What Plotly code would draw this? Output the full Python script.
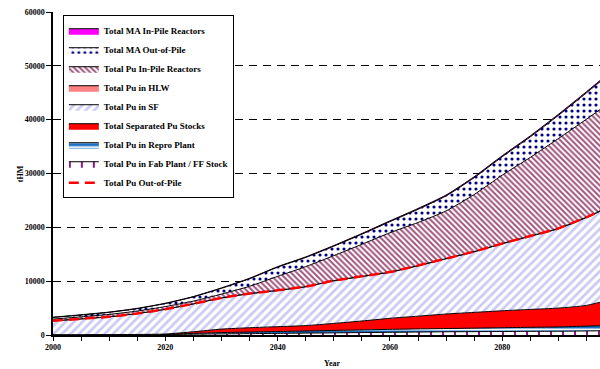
import numpy as np
import plotly.graph_objects as go

years = [2000, 2005, 2010, 2015, 2020, 2025, 2030, 2035, 2040, 2045, 2050,
         2055, 2060, 2065, 2070, 2075, 2080, 2085, 2090, 2095, 2100]

pu_fab_plant = [30, 30, 40, 50, 80, 150, 200, 250, 300, 350, 400,
                450, 500, 550, 600, 620, 650, 680, 700, 750, 800]
pu_repro_plant = [20, 20, 30, 40, 60, 150, 250, 300, 350, 400, 450,
                  500, 550, 580, 600, 650, 700, 750, 800, 900, 1000]
pu_separated = [10, 10, 10, 10, 40, 300, 650, 800, 900, 1000, 1300,
                1650, 2050, 2370, 2700, 2930, 3150, 3320, 3500, 3850, 5000]
pu_sf = [2570, 2920, 3300, 3875, 4595, 5170, 5770, 6315, 6715, 7210, 7910,
         8255, 8555, 9350, 10250, 11245, 12445, 13590, 14740, 16335, 17435]
pu_hlw = [20, 20, 20, 25, 25, 30, 30, 35, 35, 40, 40,
          45, 45, 50, 50, 55, 55, 60, 60, 65, 65]
pu_in_pile = [300, 380, 430, 450, 480, 500, 700, 1350, 2600, 3700, 4650,
              5950, 7300, 8000, 8850, 10600, 12700, 14600, 16700, 18200, 19500]
ma_out_pile = [310, 335, 380, 445, 560, 780, 1070, 1400, 1700, 1700, 1750,
               1870, 2060, 2450, 2790, 3130, 3420, 3810, 4300, 4890, 5480]
ma_in_pile = [40, 45, 50, 55, 60, 70, 80, 90, 100, 110, 120,
              130, 140, 150, 160, 170, 180, 190, 200, 210, 220]

pu_out_of_pile = (np.array(pu_fab_plant) + np.array(pu_repro_plant) +
                  np.array(pu_separated) + np.array(pu_sf) + np.array(pu_hlw))

y_ticks = [0, 10000, 20000, 30000, 40000, 50000, 60000]
x_ticks = [2000, 2020, 2040, 2060, 2080, 2100]

FONT = "Liberation Serif"

layers = [
    ("Total Pu in Fab Plant / FF Stock", pu_fab_plant,
     dict(shape="|", fgcolor="#800080", bgcolor="#ffffff", size=12, solidity=0.15, fgopacity=1), 8),
    ("Total Pu in Repro Plant", pu_repro_plant,
     dict(shape="-", fgcolor="#ffffff", bgcolor="#1a6fc4", size=5, solidity=0.4, fgopacity=1), 7),
    ("Total Separated Pu Stocks", pu_separated, None, 6),
    ("Total Pu in SF", pu_sf,
     dict(shape="/", fgcolor="#cacaf3", bgcolor="#ffffff", size=6, solidity=0.45, fgopacity=1), 5),
    ("Total Pu in HLW", pu_hlw, None, 4),
    ("Total Pu In-Pile Reactors", pu_in_pile,
     dict(shape="\\", fgcolor="#a0557d", bgcolor="#ffffff", size=4, solidity=0.5, fgopacity=1), 3),
    ("Total MA Out-of-Pile", ma_out_pile,
     dict(shape=".", fgcolor="#000080", bgcolor="#ffffff", size=6, solidity=0.22, fgopacity=1), 2),
    ("Total MA In-Pile Reactors", ma_in_pile, None, 1),
]
solid_colors = {
    "Total Separated Pu Stocks": "#ff0000",
    "Total Pu in HLW": "#ff8080",
    "Total MA In-Pile Reactors": "#ff00ff",
}

fig = go.Figure()
for name, vals, pat, rank in layers:
    kw = {}
    if pat is not None:
        kw["fillpattern"] = pat
        kw["fillcolor"] = pat["bgcolor"]
    else:
        kw["fillcolor"] = solid_colors[name]
    fig.add_trace(go.Scatter(
        x=years, y=vals, name=name, mode="lines", stackgroup="one",
        line=dict(color="black", width=1, shape="spline", smoothing=0.6),
        legendrank=rank, **kw))

fig.add_trace(go.Scatter(
    x=years, y=pu_out_of_pile, name="Total Pu Out-of-Pile", mode="lines",
    line=dict(color="#ff0000", width=2.5, dash="10px,6px", shape="spline", smoothing=0.6),
    legendrank=9))

fig.update_layout(
    width=600, height=369,
    margin=dict(l=53, r=0, t=12, b=34),
    paper_bgcolor="white", plot_bgcolor="white",
    font=dict(family=FONT, size=9, color="black"),
    showlegend=True,
    legend=dict(x=0.018, y=0.99, xanchor="left", yanchor="top",
                traceorder="normal",
                bgcolor="white", bordercolor="black", borderwidth=1,
                font=dict(family=FONT, size=9, color="black", weight="bold"),
                tracegroupgap=0),
    xaxis=dict(range=[2000, 2097.4], tickvals=x_ticks,
               ticks="outside", ticklen=4, tickcolor="black",
               minor=dict(dtick=5, ticks="outside", ticklen=4, tickcolor="black"),
               showline=True, linecolor="black", linewidth=1.5,
               showgrid=False, zeroline=False,
               tickfont=dict(family=FONT, size=8, color="black", weight="bold")),
    yaxis=dict(range=[0, 60000], tickvals=y_ticks, tickformat="d",
               ticks="outside", ticklen=5, tickcolor="black",
               showline=True, linecolor="black", linewidth=1.5,
               showgrid=True, gridcolor="black", gridwidth=1, griddash="8px,6px",
               zeroline=False,
               tickfont=dict(family=FONT, size=8, color="black", weight="bold")),
    annotations=[
        dict(text="Year", xref="paper", yref="paper", x=0.51, y=-0.087,
             xanchor="center", yanchor="middle",
             showarrow=False, font=dict(family=FONT, size=8, weight="bold")),
        dict(text="tHM", xref="paper", yref="paper", x=-0.059, y=0.5,
             xanchor="center", yanchor="middle",
             textangle=-90, showarrow=False,
             font=dict(family=FONT, size=8, weight="bold")),
    ],
)

fig.write_html("out.html", config={"displayModeBar": False},
               post_script="document.body.style.margin='0';document.body.style.padding='0';")
